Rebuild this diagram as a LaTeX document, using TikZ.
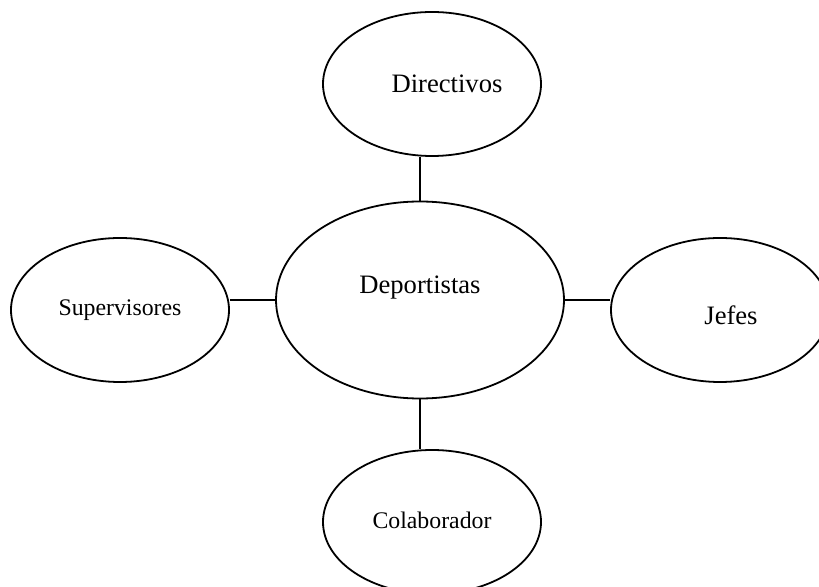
\documentclass[tikz,border=0pt]{standalone}
\usepackage{fontspec}
\setmainfont{Liberation Serif}
\usetikzlibrary{shapes.geometric}

\begin{document}
\begin{tikzpicture}[x=0.5pt, y=-0.5pt,
	bubble/.style={ellipse, draw, line width=0.9pt, inner sep=0pt, minimum width=109pt, minimum height=72pt},
	bigtext/.style={font=\fontsize{13.3}{16}\selectfont},
	smalltext/.style={font=\fontsize{11.9}{14}\selectfont},
	link/.style={line width=0.9pt}]
	\useasboundingbox (0,0) rectangle (819,587);
	\node[bubble, label={[bigtext, xshift=7.5pt]center:Directivos}] (dir) at (432,84) {};
	\node[bubble, minimum width=144pt, minimum height=98.5pt, label={[bigtext, yshift=6pt]center:Deportistas}] (dep) at (420,300) {};
	\node[bubble, label={[smalltext]center:Supervisores}] (sup) at (120,310) {};
	\node[bubble, label={[bigtext, xshift=5.5pt, yshift=-2.5pt]center:Jefes}] (jef) at (720,310) {};
	\node[bubble, label={[smalltext, yshift=1pt]center:Colaborador}] (col) at (432,522) {};
	
	% enlaces
	\draw[link] (dep.north) -- (dep.north |- dir.south);
	\draw[link] (dep.south) -- (dep.south |- col.north);
	\draw[link] (dep.west) -- (dep.west -| sup.east);
	\draw[link] (dep.east) -- (dep.east -| jef.west);
\end{tikzpicture}
\end{document}
